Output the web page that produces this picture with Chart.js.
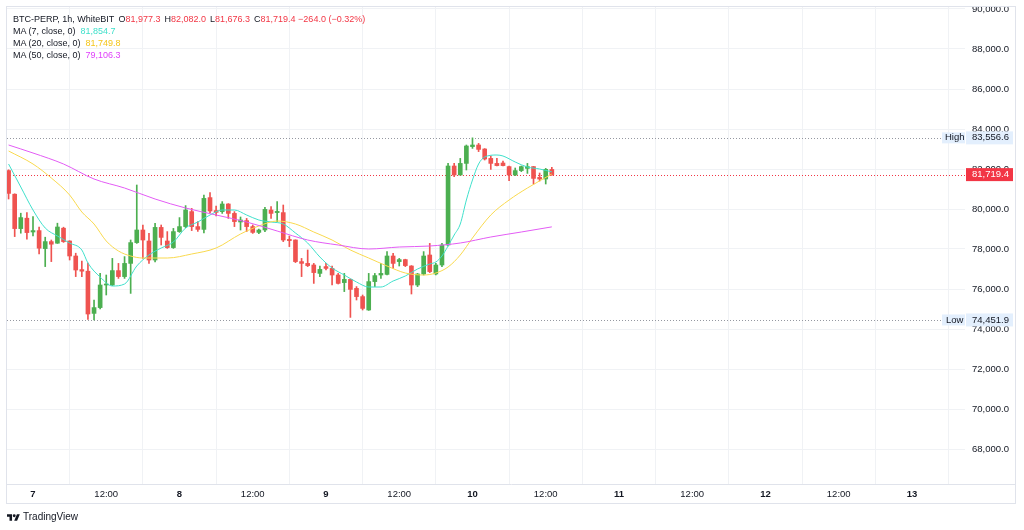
<!DOCTYPE html>
<html>
<head>
<meta charset="utf-8">
<script src="https://cdn.jsdelivr.net/npm/chart.js@4.4.1/dist/chart.umd.min.js"></script>
<style>
  body { margin: 0; background: #fff; }
  #wrap { position: relative; width: 1024px; height: 530px; font-family: "Liberation Sans", Arial, sans-serif; color: #131722; }
  #chart { position: absolute; left: 0; top: 0; }
  #legend { position: absolute; left: 13px; top: 13px; font-size: 9px; line-height: 12px; white-space: nowrap; }
  #legend .dn { color: #f23645; }
  #legend .gap { display: inline-block; width: 4px; }
  #logo { position: absolute; left: 7px; top: 511px; font-size: 10px; line-height: 12px; display: flex; align-items: center; }
  #logo svg { margin-right: 3px; }
</style>
</head>
<body>
<div id="wrap">
  <canvas id="chart" width="1024" height="530"></canvas>
  <div id="legend"></div>
  <div id="logo">
    <svg width="13" height="7" viewBox="0 4 36 18"><path d="M14 22H7V11H0V4h14v18zM28 22h-8l7.5-18h8L28 22z" fill="#131722"/><circle cx="20" cy="8" r="4" fill="#131722"/></svg>
    <span>TradingView</span>
  </div>
</div>
<script>
// candles: 1h, first one is day 6 20:00 (hour -4 relative to day 7 00:00)
const startHour = -4;
const opens  = [81920,80740,79020,79540,78850,78920,78020,78370,78290,79040,78400,77650,76970,76890,
                74780,75070,76200,76200,76920,76620,77280,78320,78950,78400,77450,79080,78400,78070,
                78870,79120,79870,79120,78980,80570,79920,79870,80250,79780,79350,79420,79120,78830,
                78950,79950,79820,79820,78480,78450,77370,77280,77200,76780,77120,77030,76700,76320,
                76480,76030,75620,74950,76370,76700,76730,77650,77370,77470,77150,76200,76750,77700,
                76750,77200,78200,82150,81700,82280,83120,83200,83000,82530,82280,82300,82120,81700,
                81920,82030,82120,81580,81500,81977.3];
const highs  = [81960,80760,79790,79820,79620,79090,78590,78450,79290,79090,78410,77790,77390,77290,
                75450,76780,76700,77530,77280,77620,78450,81200,79200,78780,79280,79200,78870,79030,
                79570,80170,80030,79370,80700,80820,80150,80370,80270,79870,79600,79530,79200,79000,
                80080,80120,80370,80200,78650,78460,77530,77950,77280,77150,77280,77150,76780,76780,
                76500,76120,75700,76780,76780,77280,77870,77780,77530,77490,77170,76780,77870,78280,
                77280,78280,82280,82280,82530,83200,83556.6,83280,83020,82650,82530,82400,82150,82050,
                82150,82280,82130,81800,82030,82082.0];
const lows   = [80500,78620,78790,78490,78650,77750,77120,77370,78280,78330,77450,76620,76620,74480,
                74451.9,75000,75700,76170,76530,76530,75780,78280,77530,77280,77350,78200,78030,78030,
                78830,79070,78920,78880,78800,79820,79650,79780,79530,79120,78950,78870,78780,78770,
                78870,79530,79370,78370,78120,77320,76620,77120,76280,76620,76950,76200,76250,75870,
                74580,75450,74950,74930,76120,76530,76700,77030,77150,77120,75750,76120,76700,76820,
                76700,77120,78150,81620,81700,81950,83030,82870,82450,81980,82150,82150,81420,81670,
                81870,81780,81250,81400,81250,81676.3];
const closes = [80780,79020,79570,78820,78920,78040,78370,78240,79100,78370,77650,76950,76890,74750,
                75070,76200,76250,76920,76620,77280,78320,78950,78450,77450,79080,78580,78070,78870,
                79120,79950,79120,78980,80530,79900,79830,80250,79780,79370,79450,79120,78830,78950,
                79980,79780,79880,78450,78420,77370,77280,77170,76820,76980,77030,76700,76280,76480,
                75980,75620,75030,76370,76670,76780,77650,77280,77470,77170,76200,76750,77650,76870,
                77200,78200,82150,81700,82280,83150,83200,82980,82500,82280,82170,82170,81700,81920,
                82120,82120,81530,81500,81983.4,81719.4];

// moving averages (hour, value)
const ma7Hours  = [-4,-2,0,2,4,6,8,9,11,13,15,17,19,21,23,25,27,29,31,33,35,37,39,41,43,45,47,49,51,53,
                   55,57,59,61,63,65,66,67,68,69,70,71,72,73,74,76,77,79,81,83,85];
const ma7Values = [82250,81100,79950,79050,78650,78300,77950,77300,76600,76150,76250,77150,77700,78050,78350,
                   79050,79350,79700,79950,79950,79700,79450,79350,79250,78800,78300,77600,77050,76700,76350,
                   76100,76100,76400,76650,77000,77250,77350,77650,78150,78700,79250,80450,81450,82250,82600,
                   82700,82650,82350,82100,82000,81854.7];
const ma20Hours  = [-4,0,3,6,8,10,12,14,16,18,22,26,30,34,37,40,43,46,49,52,55,58,61,64,66,68,70,72,75,78,81,85];
const ma20Values = [82900,82250,81550,80700,79850,79250,78400,77900,77650,77550,77550,77750,78050,78750,79150,
                    79400,79250,78850,78450,77950,77550,77150,76800,76700,76800,77100,77700,78550,79700,80450,
                    81050,81749.8];
const ma50Hours  = [-4,0,5,10,15,20,25,30,35,40,45,50,55,60,65,70,75,80,85];
const ma50Values = [83200,82800,82250,81500,81050,80500,80050,79700,79350,78900,78450,78200,78000,78100,78150,
                    78300,78600,78850,79106.3];

// axes
const xTickHours  = [0,12,24,36,48,60,72,84,96,108,120,132,144];
const xTickLabels = ['7','12:00','8','12:00','9','12:00','10','12:00','11','12:00','12','12:00','13'];
const yTicks = [68000,70000,72000,74000,76000,78000,80000,82000,84000,86000,88000,90000];
const xMin = -4.26, xMax = 152.69;
const yMin = 66250, yMax = 90100;

const upColor = '#4caf50';
const downColor = '#ef5350';
const ma7Color = '#3fe0cb', ma20Color = '#f9d94e', ma50Color = '#e35cf5';
const fontFamily = '"Liberation Sans", Arial, sans-serif';

const last = opens.length - 1;
const highMark = Math.max(...highs);
const lowMark = Math.min(...lows);
const lastPrice = closes[last];

function fmt(v) {
  return v.toLocaleString('en-US', { minimumFractionDigits: 1, maximumFractionDigits: 1 });
}
function signed(v) {
  return (v < 0 ? '\u2212' : '+') + fmt(Math.abs(v));
}

// legend (html text)
const change = closes[last] - closes[last - 1];
const pct = change / closes[last - 1] * 100;
document.getElementById('legend').innerHTML =
  '<div>BTC-PERP, 1h, WhiteBIT<span class="gap"></span>' +
  'O<span class="dn">' + fmt(opens[last]) + '</span><span class="gap"></span>' +
  'H<span class="dn">' + fmt(highs[last]) + '</span><span class="gap"></span>' +
  'L<span class="dn">' + fmt(lows[last]) + '</span><span class="gap"></span>' +
  'C<span class="dn">' + fmt(closes[last]) + '</span> ' +
  '<span class="dn">' + signed(change) + ' (' + (pct < 0 ? '\u2212' : '+') + Math.abs(pct).toFixed(2) + '%)</span></div>' +
  '<div>MA (7, close, 0)&nbsp; <span style="color:' + ma7Color + '">' + fmt(ma7Values[ma7Values.length - 1]) + '</span></div>' +
  '<div>MA (20, close, 0)&nbsp; <span style="color:#f5c518">' + fmt(ma20Values[ma20Values.length - 1]) + '</span></div>' +
  '<div>MA (50, close, 0)&nbsp; <span style="color:#e040fb">' + fmt(ma50Values[ma50Values.length - 1]) + '</span></div>';

const wickData = opens.map((o, i) => ({ x: startHour + i, y: [lows[i], highs[i]] }));
const bodyData = opens.map((o, i) => ({ x: startHour + i, y: [Math.min(o, closes[i]), Math.max(o, closes[i])] }));
const candleColors = opens.map((o, i) => closes[i] >= o ? upColor : downColor);

function maLine(hours, values, color) {
  return {
    type: 'line',
    data: hours.map((h, i) => ({ x: h, y: values[i] })),
    borderColor: color,
    borderWidth: 1,
    pointRadius: 0,
    tension: 0.4,
    cubicInterpolationMode: 'monotone',
    order: 0
  };
}

// dotted price lines, price labels and frame
const priceMarks = {
  id: 'priceMarks',
  beforeDatasetsDraw(chart) {
    const { ctx, chartArea, scales } = chart;
    ctx.save();
    ctx.lineWidth = 1;
    ctx.setLineDash([1, 2]);
    [[highMark, '#9598a1', 942], [lowMark, '#9598a1', 942], [lastPrice, '#f23645', chartArea.right]].forEach(m => {
      const y = Math.round(scales.y.getPixelForValue(m[0])) + 0.5;
      ctx.strokeStyle = m[1];
      ctx.beginPath();
      ctx.moveTo(chartArea.left, y);
      ctx.lineTo(m[2], y);
      ctx.stroke();
    });
    ctx.restore();
  },
  afterDraw(chart) {
    const { ctx, chartArea, scales } = chart;
    ctx.save();
    // price scale label clipped at the top edge
    ctx.fillStyle = '#ffffff';
    ctx.fillRect(chartArea.right, 0, 1024 - chartArea.right, chartArea.top);
    ctx.font = '9.5px ' + fontFamily;
    ctx.textBaseline = 'middle';
    const box = (value, name, bg, fg) => {
      const y = scales.y.getPixelForValue(value);
      if (name) {
        ctx.fillStyle = bg;
        ctx.fillRect(942, y - 5.5, 23, 11);
        ctx.fillStyle = fg;
        ctx.fillText(name, name === 'Low' ? 946 : 945, y);
      }
      ctx.fillStyle = bg;
      ctx.fillRect(chartArea.right + 1, y - 6.5, 47, 13);
      ctx.fillStyle = fg;
      ctx.fillText(fmt(value), chartArea.right + 7, y);
    };
    box(highMark, 'High', '#e3effd', '#131722');
    box(lowMark, 'Low', '#e3effd', '#131722');
    box(lastPrice, null, '#f23645', '#ffffff');

    // frame
    ctx.strokeStyle = '#e0e3eb';
    ctx.lineWidth = 1;
    ctx.strokeRect(6.5, 6.5, 1009, 497);
    ctx.beginPath();
    ctx.moveTo(7, chartArea.bottom + 0.5);
    ctx.lineTo(1016, chartArea.bottom + 0.5);
    ctx.stroke();
    ctx.restore();
  }
};

new Chart(document.getElementById('chart'), {
  type: 'bar',
  data: {
    datasets: [
      maLine(ma50Hours, ma50Values, ma50Color),
      maLine(ma20Hours, ma20Values, ma20Color),
      maLine(ma7Hours, ma7Values, ma7Color),
      {
        data: wickData,
        backgroundColor: candleColors,
        barThickness: 1,
        grouped: false,
        order: 2
      },
      {
        data: bodyData,
        backgroundColor: candleColors,
        barThickness: 4,
        minBarLength: 1,
        grouped: false,
        order: 1
      }
    ]
  },
  options: {
    responsive: false,
    animation: false,
    devicePixelRatio: 1,
    layout: { autoPadding: false, padding: { left: 7, top: 7, right: 8, bottom: 26 } },
    plugins: { legend: { display: false }, tooltip: { enabled: false } },
    scales: {
      x: {
        type: 'linear',
        min: xMin,
        max: xMax,
        offset: false,
        grid: { color: '#f0f2f5', drawTicks: false },
        border: { display: false },
        afterBuildTicks: s => { s.ticks = xTickHours.map(v => ({ value: v })); },
        afterFit: s => { s.height = 20; s.paddingLeft = 0; s.paddingRight = 0; },
        ticks: {
          autoSkip: false,
          maxRotation: 0,
          padding: 5,
          color: '#131722',
          callback: v => xTickLabels[xTickHours.indexOf(v)],
          font: c => ({ family: fontFamily, size: 9.5, weight: (c.tick && String(c.tick.label).indexOf(':') < 0) ? 'bold' : 'normal' })
        }
      },
      y: {
        position: 'right',
        min: yMin,
        max: yMax,
        grid: { color: '#f0f2f5', drawTicks: false },
        border: { display: false },
        afterBuildTicks: s => { s.ticks = yTicks.map(v => ({ value: v })); },
        afterFit: s => { s.width = 51; s.paddingTop = 0; s.paddingBottom = 0; },
        ticks: {
          padding: 7,
          color: '#131722',
          font: { family: fontFamily, size: 9.5 },
          callback: v => fmt(v)
        }
      }
    }
  },
  plugins: [priceMarks]
});
</script>
</body>
</html>
